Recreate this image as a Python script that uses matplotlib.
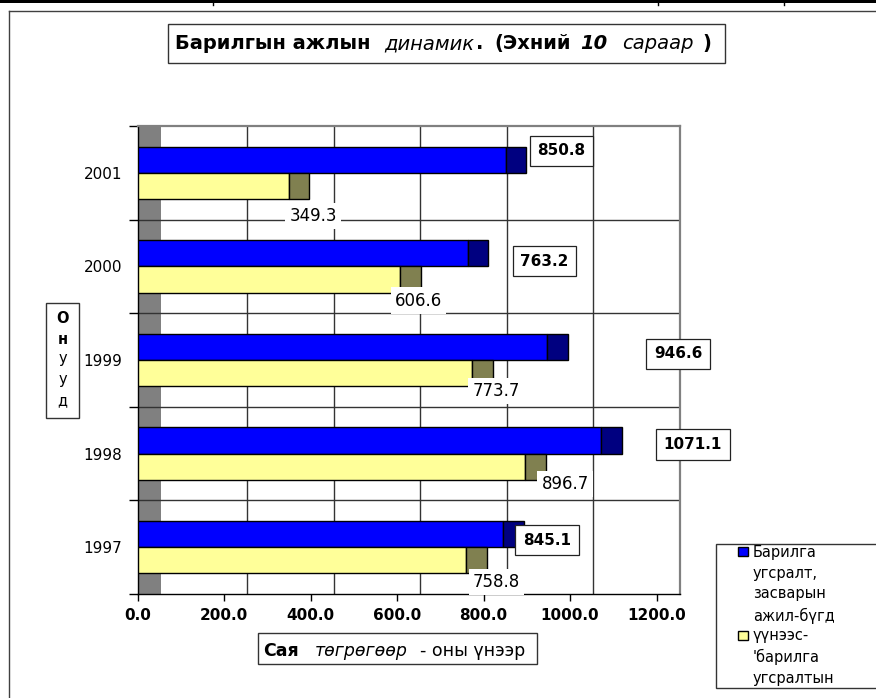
import matplotlib
matplotlib.use('Agg')
import matplotlib.pyplot as plt
from matplotlib.patches import Rectangle
import numpy as np

years = ['1997', '1998', '1999', '2000', '2001']
total_work = [845.1, 1071.1, 946.6, 763.2, 850.8]
construction = [758.8, 896.7, 773.7, 606.6, 349.3]
series_names = ['Барилга\nугсралт,\nзасварын\nажил-бүгд',
                "үүнээс-\n'барилга\nугсралтын\nажлын"]
x_ticks = [0, 200, 400, 600, 800, 1000, 1200]

# where Excel left the data labels: pixels from bar end / bar centre
total_lbl_off = [(44, -6), (92, -4), (131, -7), (77, -8), (56, 9)]
cons_lbl_off = [(7, -22), (16, -17), (0, -18), (-5, -21), (1, -30)]

W, H = 876, 698
DEPTH = 54   # fake 3d depth, data units
CAP = 48     # dark end of each bar
BH = 0.28

fig = plt.figure(figsize=(W / 100, H / 100), dpi=100)
ax = fig.add_axes([137.5 / W, 1 - 594 / H, 542.5 / W, 468 / H])
ax.set_xlim(0, 1200 + DEPTH)
ax.set_ylim(-0.5, len(years) - 0.5)

y = np.arange(len(years))

# back wall + grid
ax.axvspan(0, DEPTH, color='#808080', lw=0, zorder=0)
for gx in x_ticks[1:]:
    ax.axvline(gx + DEPTH, color='#333333', lw=1, zorder=1)
for b in y[:-1] + 0.5:
    ax.axhline(b, color='#333333', lw=1, zorder=1)

ax.barh(y + BH / 2, total_work, height=BH, color='#0000ff', edgecolor='black', lw=1, zorder=3)
ax.barh(y + BH / 2, CAP, left=total_work, height=BH, color='#000080', edgecolor='black', lw=1, zorder=3)
ax.barh(y - BH / 2, construction, height=BH, color='#ffff99', edgecolor='black', lw=1, zorder=3)
ax.barh(y - BH / 2, CAP, left=construction, height=BH, color='#808050', edgecolor='black', lw=1, zorder=3)

for i in range(len(years)):
    ax.annotate(f"{total_work[i]:.1f}", xy=(total_work[i], y[i] + BH / 2),
                xytext=total_lbl_off[i], textcoords='offset pixels',
                ha='center', va='center', fontsize=11, fontweight='bold',
                bbox=dict(boxstyle='square,pad=0.5', fc='white', ec='#222222', lw=0.9),
                zorder=6, annotation_clip=False)
    ax.annotate(f"{construction[i]:.1f}", xy=(construction[i], y[i] - BH / 2),
                xytext=cons_lbl_off[i], textcoords='offset pixels',
                ha='left', va='center', fontsize=12,
                bbox=dict(boxstyle='square,pad=0.25', fc='white', ec='none'),
                zorder=6, annotation_clip=False)

for s in ['left', 'bottom']:
    ax.spines[s].set_color('black')
    ax.spines[s].set_linewidth(1)
for s in ['top', 'right']:
    ax.spines[s].set_color('#808080')
    ax.spines[s].set_linewidth(1.6)

ax.set_xticks(x_ticks)
ax.set_xticklabels([f"{v:.1f}" for v in x_ticks], fontsize=11, fontweight='bold')
ax.tick_params(axis='x', direction='out', length=5, width=1, pad=5)

ax.set_yticks(np.arange(len(years) + 1) - 0.5)
ax.set_yticklabels([])
ax.tick_params(axis='y', which='major', direction='out', length=6.5, width=1)
ax.set_yticks(y, minor=True)
ax.set_yticklabels(years, minor=True, fontsize=11)
ax.tick_params(axis='y', which='minor', length=0, pad=11)

# overlay in pixel coords for the frames, titles and legend
ov = fig.add_axes([0, 0, 1, 1], zorder=5)
ov.set_xlim(0, W)
ov.set_ylim(H, 0)
ov.axis('off')

ov.add_patch(Rectangle((0, 0), W, 3.3, color='black', lw=0))
for vx in [213, 658, 784]:
    ov.plot([vx, vx], [0, 5], color='black', lw=1)
ov.plot([8.5, 8.5], [10.7, H], color='#404040', lw=1)
ov.plot([8.5, W], [10.7, 10.7], color='#404040', lw=1)


def rich(x, yb, parts, size):
    t = None
    for s, weight, style, gap in parts:
        kw = dict(fontsize=size, fontweight=weight, fontstyle=style, ha='left')
        if t is None:
            t = ov.text(x, yb, s, va='baseline', **kw)
        else:
            t = ov.annotate(s, xy=(1, 0), xycoords=t, xytext=(gap, 0),
                            textcoords='offset pixels', va='bottom', **kw)
    return t


ov.add_patch(Rectangle((167.7, 24.3), 557.3, 38.4, fc='white', ec='#333333', lw=1))
rich(175, 49.3, [("Барилгын ажлын", 'bold', 'normal', 0),
                 ("динамик", 'normal', 'italic', 14),
                 (".", 'bold', 'normal', 2),
                 ("(Эхний", 'bold', 'normal', 10),
                 ("10", 'bold', 'italic', 10),
                 ("сараар", 'normal', 'italic', 14),
                 (")", 'bold', 'normal', 9)], 14)

ov.add_patch(Rectangle((258.3, 633.3), 279, 30.7, fc='white', ec='#333333', lw=1))
rich(263.5, 656, [("Сая", 'bold', 'normal', 0),
                  ("төгрөгөөр", 'normal', 'italic', 16),
                  ("- оны үнээр", 'normal', 'normal', 12)], 12.5)

ov.add_patch(Rectangle((45.7, 303.3), 33.6, 114.4, fc='white', ec='#333333', lw=1))
ov.text(62.5, 311, "О\nн", ha='center', va='top', fontsize=10.5,
        fontweight='bold', linespacing=1.5)
ov.text(62.5, 351, "у\nу\nд", ha='center', va='top', fontsize=10.5,
        linespacing=1.5)

leg = Rectangle((715.5, 543.5), 200, 144.2, fc='white', ec='#333333', lw=1)
ov.add_patch(leg)
ov.add_patch(Rectangle((738, 547), 10, 9, fc='#0000ff', ec='black', lw=1))
ov.add_patch(Rectangle((738, 631), 10, 9, fc='#ffff99', ec='black', lw=1))
for name, ytop in zip(series_names, [545, 628]):
    t = ov.text(753, ytop, name, ha='left', va='top', fontsize=10.5,
                linespacing=1.47, clip_on=True)
    t.set_clip_path(leg)

fig.savefig('out.png', dpi=100)
